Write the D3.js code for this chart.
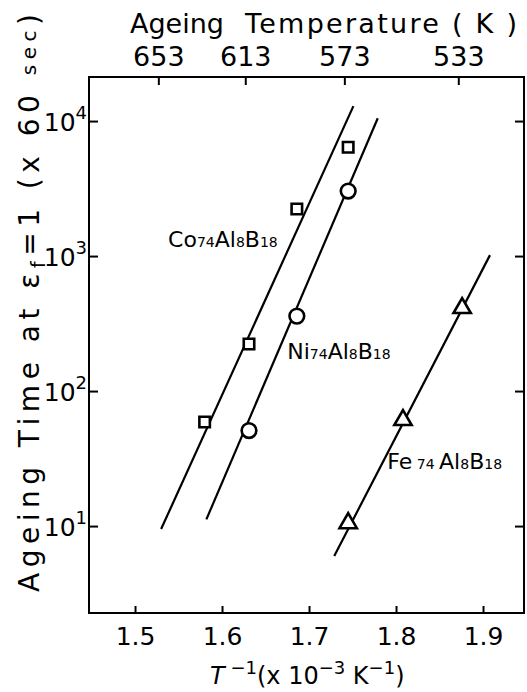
<!DOCTYPE html>
<html lang="en">
<head>
<meta charset="utf-8">
<title>Ageing time vs inverse temperature</title>
<script src="https://cdn.jsdelivr.net/npm/d3@7"></script>
<style>
body { margin: 0; background: #fff; }
svg text { font-family: "DejaVu Sans", sans-serif; fill: #000; }
</style>
</head>
<body>
<script>
// x: 1/T (x10^-3 K^-1), y: ageing time at ef=1 (x60 sec)
var coX = [1.580, 1.631, 1.686, 1.745];
var coY = [59, 223, 2230, 6400];
var niX = [1.631, 1.686, 1.745];
var niY = [51, 359, 3030];
var feX = [1.745, 1.808, 1.876];
var feY = [10.5, 61, 412];

// straight fitted lines, two end points each
var coLineX = [1.530, 1.751];
var coLineY = [9.5, 12900];
var niLineX = [1.582, 1.779];
var niLineY = [11.2, 10500];
var feLineX = [1.729, 1.908];
var feLineY = [6.0, 1016];

var xTicks = [1.5, 1.6, 1.7, 1.8, 1.9];
var yTicks = [10, 100, 1000, 10000];
var yExp = ["1", "2", "3", "4"];
var tempTicks = [653, 613, 573, 533];

var w = 527, h = 692;
var margin = {top: 77, right: 3, bottom: 79, left: 89};

var svg = d3.select("body").append("svg")
    .attr("width", w)
    .attr("height", h);

var x = d3.scaleLinear()
    .domain([1.4471, 1.9471])
    .range([margin.left, w - margin.right]);

var y = d3.scaleLog()
    .domain([2.27, 21200])
    .range([h - margin.bottom, margin.top]);

// frame
svg.append("rect")
    .attr("x", margin.left)
    .attr("y", margin.top)
    .attr("width", w - margin.left - margin.right)
    .attr("height", h - margin.top - margin.bottom)
    .attr("fill", "none")
    .attr("stroke", "#000")
    .attr("stroke-width", 2);

// bottom axis, ticks pointing in
var xAxis = svg.append("g")
    .attr("transform", "translate(0," + (h - margin.bottom) + ")")
    .call(d3.axisBottom(x).tickValues(xTicks).tickSize(-7).tickPadding(13)
        .tickFormat(d3.format(".1f")));
xAxis.select(".domain").remove();
xAxis.selectAll("line").attr("stroke-width", 2);
xAxis.selectAll("text")
    .attr("font-size", 25)
    .attr("font-family", "DejaVu Sans Condensed, DejaVu Sans, sans-serif")
    .attr("dy", "0.75em");

// top axis: ageing temperature
var topAxis = svg.append("g")
    .attr("transform", "translate(-4," + margin.top + ")")
    .call(d3.axisTop(x).tickValues(tempTicks.map(function (t) { return 1000 / t; }))
        .tickSize(-8).tickPadding(11)
        .tickFormat(function (d) { return Math.round(1000 / d); }));
topAxis.select(".domain").remove();
topAxis.selectAll("line").attr("stroke-width", 2);
topAxis.selectAll("text")
    .attr("font-size", 27)
    .attr("font-family", "DejaVu Sans Condensed, DejaVu Sans, sans-serif");

// left and right ticks
var yAxis = svg.append("g")
    .attr("transform", "translate(" + margin.left + ",0)")
    .call(d3.axisLeft(y).tickValues(yTicks).tickSize(-9).tickFormat(""));
yAxis.select(".domain").remove();
yAxis.selectAll("line").attr("stroke-width", 2);

var yAxisR = svg.append("g")
    .attr("transform", "translate(" + (w - margin.right) + ",0)")
    .call(d3.axisRight(y).tickValues(yTicks).tickSize(-9).tickFormat(""));
yAxisR.select(".domain").remove();
yAxisR.selectAll("line").attr("stroke-width", 2);

// 10^n labels
var yLab = svg.append("g").selectAll("text")
    .data(yTicks)
    .enter()
    .append("text")
    .attr("x", margin.left - 2)
    .attr("y", function (d) { return y(d) + 10; })
    .attr("text-anchor", "end")
    .attr("font-size", 25);
yLab.append("tspan").text("10");
yLab.append("tspan")
    .attr("dy", -12)
    .attr("font-size", 18)
    .text(function (d, i) { return yExp[i]; });

// titles
svg.append("text")
    .attr("x", 130)
    .attr("y", 33)
    .attr("font-size", 27)
    .text("Ageing");
svg.append("text")
    .attr("x", 245)
    .attr("y", 33)
    .attr("font-size", 27)
    .attr("textLength", 272)
    .attr("lengthAdjust", "spacing")
    .text("Temperature ( K )");

var yt = svg.append("text")
    .attr("transform", "translate(39,592) rotate(-90)")
    .attr("font-size", 28)
    .attr("textLength", 578)
    .attr("lengthAdjust", "spacing");
yt.append("tspan").text("Ageing  Time  at  ε");
yt.append("tspan").attr("font-size", 19).attr("dy", 6).text("f");
yt.append("tspan").attr("dy", -6).text("=1 (x 60 ");
yt.append("tspan").attr("font-size", 20).attr("dy", -3).text("sec");
yt.append("tspan").attr("dy", 3).text(")");

var xt = svg.append("text")
    .attr("x", 210)
    .attr("y", 684)
    .attr("font-size", 24);
xt.append("tspan").attr("font-style", "italic").text("T");
xt.append("tspan").attr("dy", -10).attr("font-size", 18).text(" \u22121");
xt.append("tspan").attr("dy", 10).text("(x 10");
xt.append("tspan").attr("dy", -10).attr("font-size", 18).text("\u22123");
xt.append("tspan").attr("dy", 10).text(" K");
xt.append("tspan").attr("dy", -10).attr("font-size", 18).text("\u22121");
xt.append("tspan").attr("dy", 10).text(")");

// fitted lines
var line = d3.line()
    .x(function (d) { return x(d[0]); })
    .y(function (d) { return y(d[1]); });

[[coLineX, coLineY], [niLineX, niLineY], [feLineX, feLineY]].forEach(function (l) {
    svg.append("path")
        .datum(d3.zip(l[0], l[1]))
        .attr("d", line)
        .attr("fill", "none")
        .attr("stroke", "#000")
        .attr("stroke-width", 2.2);
});

// markers
function drawPoints(xs, ys, type, size) {
    svg.append("g").selectAll("path")
        .data(d3.zip(xs, ys))
        .enter()
        .append("path")
        .attr("transform", function (d) { return "translate(" + x(d[0]) + "," + y(d[1]) + ")"; })
        .attr("d", d3.symbol().type(type).size(size))
        .attr("fill", "#fff")
        .attr("stroke", "#000")
        .attr("stroke-width", 2.6);
}
drawPoints(coX, coY, d3.symbolSquare, 110);
drawPoints(niX, niY, d3.symbolCircle, 170);
drawPoints(feX, feY, d3.symbolTriangle, 130);

// series labels
function seriesLabel(px, py, parts) {
    var t = svg.append("text")
        .attr("x", x(px))
        .attr("y", y(py))
        .attr("font-size", 22);
    parts.forEach(function (p, i) {
        t.append("tspan")
            .attr("font-size", i % 2 ? 14 : 22)
            .text(p);
    });
}
seriesLabel(1.538, 1166, ["Co", "74", "Al", "8", "B", "18"]);
seriesLabel(1.675, 172, ["Ni", "74", "Al", "8", "B", "18"]);
seriesLabel(1.790, 26.4, ["Fe", " 74 ", "Al", "8", "B", "18"]);
</script>
</body>
</html>
